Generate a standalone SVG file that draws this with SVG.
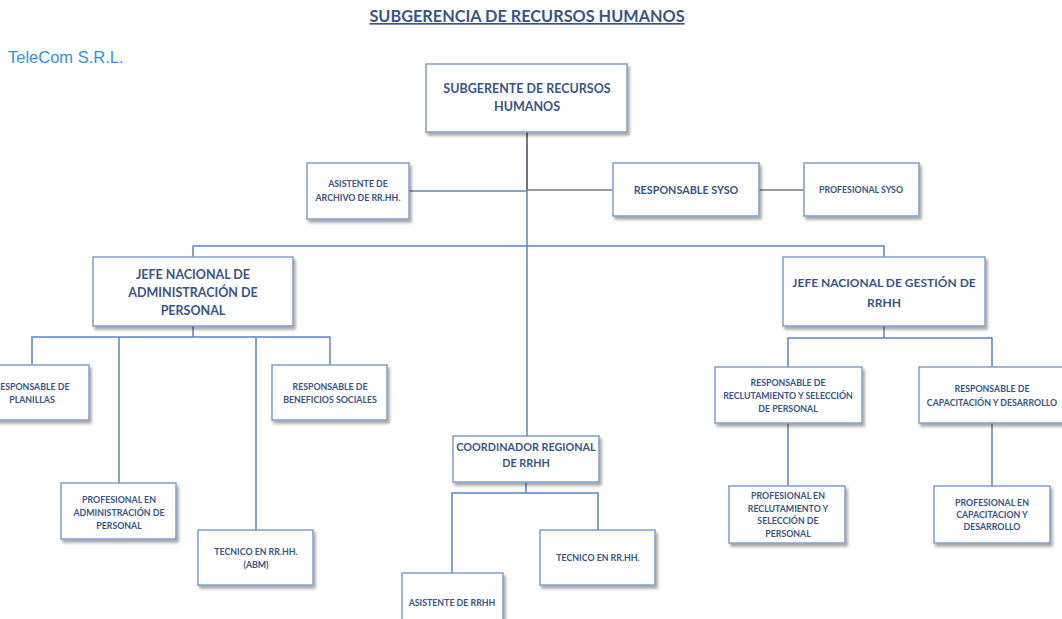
<svg xmlns="http://www.w3.org/2000/svg" width="1062" height="619" viewBox="0 0 1062 619">
<defs>
<filter id="sh" x="-10%" y="-10%" width="130%" height="140%">
<feDropShadow dx="2" dy="3" stdDeviation="1.5" flood-color="#000" flood-opacity="0.35"/>
</filter>
</defs>
<style>
.box{fill:#fff;stroke:#7f9ecb;stroke-width:1.5;filter:url(#sh)}
.t{font-family:Lato,"Liberation Sans",sans-serif;font-weight:bold;fill:#36558a;text-anchor:middle}
.xl{font-size:12.5px}
.l{font-size:12.5px}
.lg{font-size:12px}
.m{font-size:10.8px}
.s{font-size:8.8px}
.c{fill:none;stroke:#5b84bd;stroke-width:1.5}
.g{fill:none;stroke:#7a7a7a;stroke-width:1.5}
.d{fill:none;stroke:#3c4a5c;stroke-width:1.5}
</style>
<rect width="1062" height="619" fill="#fff"/>
<text x="527" y="22" class="t" style="font-size:16.3px" text-decoration="underline">SUBGERENCIA DE RECURSOS HUMANOS</text>
<text x="8" y="63" style="font-family:'Liberation Sans',Arial,sans-serif;font-size:16.5px;fill:#2f8fe6">TeleCom S.R.L.</text>

<g id="connectors">
<path class="d" d="M527 132V191"/>
<path class="c" d="M527 191V436"/>
<path class="c" d="M409 191H527"/>
<path class="g" d="M527 190H613"/>
<path class="g" d="M759 190H804"/>
<path class="c" d="M193 257V246H884V257"/>
<path class="c" d="M193 326V337M32 365V337H330V365M119 337V483M256 337V530"/>
<path class="c" d="M884 326V338M788 367V338H992V367"/>
<path class="c" d="M788 423V486M992 423V486"/>
<path class="c" d="M526 482V493M452 573V493H598V530"/>
</g>

<g id="n-subgerente">
<rect class="box" x="426" y="64" width="201" height="68"/>
<text class="t xl" x="527" y="93">SUBGERENTE DE RECURSOS</text>
<text class="t xl" x="527" y="111">HUMANOS</text>
</g>
<g id="n-asistente-archivo">
<rect class="box" x="307" y="163" width="102" height="56"/>
<text class="t s" x="358" y="187">ASISTENTE DE</text>
<text class="t s" x="358" y="201">ARCHIVO DE RR.HH.</text>
</g>
<g id="n-resp-syso">
<rect class="box" x="613" y="163" width="146" height="53"/>
<text class="t m" x="686" y="194">RESPONSABLE SYSO</text>
</g>
<g id="n-prof-syso">
<rect class="box" x="804" y="163" width="115" height="53"/>
<text class="t s" x="861" y="193">PROFESIONAL SYSO</text>
</g>
<g id="n-jefe-admin">
<rect class="box" x="93" y="257" width="200" height="69"/>
<text class="t l" x="193" y="279">JEFE NACIONAL DE</text>
<text class="t l" x="193" y="297">ADMINISTRACIÓN DE</text>
<text class="t l" x="193" y="315">PERSONAL</text>
</g>
<g id="n-jefe-gestion">
<rect class="box" x="783" y="257" width="202" height="69"/>
<text class="t lg" x="884" y="287">JEFE NACIONAL DE GESTIÓN DE</text>
<text class="t lg" x="884" y="307">RRHH</text>
</g>
<g id="n-planillas">
<rect class="box" x="-25" y="365" width="114" height="55"/>
<text class="t s" x="32" y="390">RESPONSABLE DE</text>
<text class="t s" x="32" y="403">PLANILLAS</text>
</g>
<g id="n-beneficios">
<rect class="box" x="272" y="365" width="115" height="55"/>
<text class="t s" x="330" y="390">RESPONSABLE DE</text>
<text class="t s" x="330" y="403">BENEFICIOS SOCIALES</text>
</g>
<g id="n-prof-admin">
<rect class="box" x="61" y="483" width="115" height="56"/>
<text class="t s" x="119" y="503">PROFESIONAL EN</text>
<text class="t s" x="119" y="516">ADMINISTRACIÓN DE</text>
<text class="t s" x="119" y="529">PERSONAL</text>
</g>
<g id="n-tecnico-abm">
<rect class="box" x="198" y="530" width="115" height="55"/>
<text class="t s" x="256" y="555">TECNICO EN RR.HH.</text>
<text class="t s" x="256" y="568">(ABM)</text>
</g>
<g id="n-coordinador">
<rect class="box" x="453" y="436" width="146" height="46"/>
<text class="t m" x="526" y="451">COORDINADOR REGIONAL</text>
<text class="t m" x="526" y="467">DE RRHH</text>
</g>
<g id="n-asistente-rrhh">
<rect class="box" x="402" y="573" width="101" height="60"/>
<text class="t s" x="452" y="606">ASISTENTE DE RRHH</text>
</g>
<g id="n-tecnico-rrhh">
<rect class="box" x="540" y="530" width="115" height="55"/>
<text class="t s" x="598" y="561">TECNICO EN RR.HH.</text>
</g>
<g id="n-reclutamiento">
<rect class="box" x="715" y="367" width="147" height="56"/>
<text class="t s" x="788" y="386">RESPONSABLE DE</text>
<text class="t s" x="788" y="399">RECLUTAMIENTO Y SELECCIÓN</text>
<text class="t s" x="788" y="412">DE PERSONAL</text>
</g>
<g id="n-capacitacion">
<rect class="box" x="919" y="367" width="150" height="56"/>
<text class="t s" x="992" y="392">RESPONSABLE DE</text>
<text class="t s" x="992" y="406">CAPACITACIÓN Y DESARROLLO</text>
</g>
<g id="n-prof-reclutamiento">
<rect class="box" x="729" y="486" width="116" height="57"/>
<text class="t s" x="788" y="499">PROFESIONAL EN</text>
<text class="t s" x="788" y="512">RECLUTAMIENTO Y</text>
<text class="t s" x="788" y="524">SELECCIÓN DE</text>
<text class="t s" x="788" y="537">PERSONAL</text>
</g>
<g id="n-prof-capacitacion">
<rect class="box" x="934" y="486" width="116" height="57"/>
<text class="t s" x="992" y="506">PROFESIONAL EN</text>
<text class="t s" x="992" y="518">CAPACITACION Y</text>
<text class="t s" x="992" y="530">DESARROLLO</text>
</g>
</svg>
